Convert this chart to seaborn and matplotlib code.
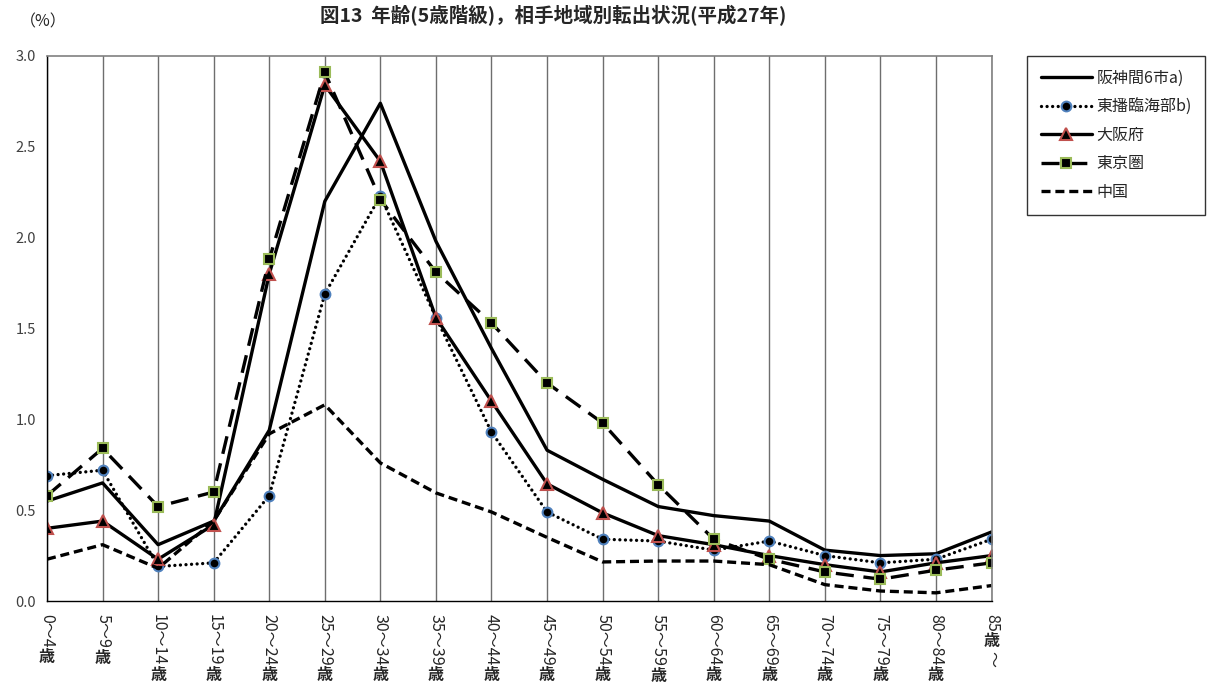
import matplotlib
matplotlib.use("Agg")
import matplotlib.pyplot as plt
import seaborn as sns

# 年齢階級
age_labels = ['0～4歳', '5～9歳', '10～14歳', '15～19歳', '20～24歳', '25～29歳',
              '30～34歳', '35～39歳', '40～44歳', '45～49歳', '50～54歳', '55～59歳',
              '60～64歳', '65～69歳', '70～74歳', '75～79歳', '80～84歳', '85歳～']

# 相手地域別転出率 (%)
hanshin = [0.55, 0.65, 0.31, 0.44, 0.94, 2.20, 2.74, 1.98, 1.39, 0.83, 0.67, 0.52,
           0.47, 0.44, 0.28, 0.25, 0.26, 0.38]
toban = [0.69, 0.72, 0.19, 0.21, 0.58, 1.69, 2.23, 1.56, 0.93, 0.49, 0.34, 0.33,
         0.28, 0.33, 0.25, 0.21, 0.23, 0.34]
osaka = [0.40, 0.44, 0.23, 0.42, 1.80, 2.84, 2.42, 1.56, 1.10, 0.645, 0.485, 0.36,
         0.31, 0.25, 0.20, 0.16, 0.21, 0.25]
tokyo = [0.58, 0.84, 0.52, 0.60, 1.88, 2.91, 2.21, 1.81, 1.53, 1.20, 0.98, 0.64,
         0.34, 0.23, 0.16, 0.12, 0.17, 0.21]
china = [0.23, 0.31, 0.18, 0.44, 0.92, 1.08, 0.76, 0.595, 0.49, 0.35, 0.215, 0.22,
         0.22, 0.20, 0.09, 0.055, 0.045, 0.085]

sns.set_style("white")
plt.rcParams['font.family'] = ['Noto Sans CJK JP', 'DejaVu Sans']
plt.rcParams['lines.scale_dashes'] = False

fig = plt.figure(figsize=(12.11, 6.86), dpi=100)
ax = fig.add_axes([0.0388, 0.1239, 0.7800, 0.7945])

x = list(range(len(age_labels)))
lw = 2.4

sns.lineplot(x=x, y=hanshin, ax=ax, color='black', linewidth=lw,
             linestyle='-', label='阪神間6市a)')
sns.lineplot(x=x, y=toban, ax=ax, color='black', linewidth=lw,
             linestyle=(0, (0.01, 4.0)), dash_capstyle='round',
             marker='o', markersize=7, markerfacecolor='black',
             markeredgecolor='#4f81bd', markeredgewidth=1.5, label='東播臨海部b)')
sns.lineplot(x=x, y=osaka, ax=ax, color='black', linewidth=lw,
             linestyle='-', marker='^', markersize=8, markerfacecolor='black',
             markeredgecolor='#c0504d', markeredgewidth=1.5, label='大阪府')
sns.lineplot(x=x, y=tokyo, ax=ax, color='black', linewidth=lw,
             linestyle=(0, (13, 7)), marker='s', markersize=7, markerfacecolor='black',
             markeredgecolor='#9bbb59', markeredgewidth=1.5, label='東京圏')
sns.lineplot(x=x, y=china, ax=ax, color='black', linewidth=lw,
             linestyle=(0, (6.5, 3.5)), label='中国')

ax.set_xlim(0, len(age_labels) - 1)
ax.set_ylim(0, 3.0)
ax.set_yticks([0, 0.5, 1.0, 1.5, 2.0, 2.5, 3.0])
ax.set_yticklabels([f'{v:.1f}' for v in [0, 0.5, 1.0, 1.5, 2.0, 2.5, 3.0]])
ax.set_xlabel('')
ax.set_ylabel('')

# 縦グリッド
ax.set_xticks(x)
ax.grid(axis='x', color='#6e6e6e', linewidth=1.0)
ax.grid(axis='y', visible=False)
for s in ['left', 'bottom']:
    ax.spines[s].set_color('black')
    ax.spines[s].set_linewidth(1.0)
for s in ['top', 'right']:
    ax.spines[s].set_color('#808080')
    ax.spines[s].set_linewidth(1.2)
ax.tick_params(axis='y', direction='out', length=5, width=1, color='black',
               labelsize=10.5, labelcolor='#404040', pad=3)
ax.tick_params(axis='x', direction='out', length=6, width=1, color='black', pad=3)


# 縦書き風ラベル: 数字部分は回転、「歳」は正立
def split_runs(label):
    runs = []
    for ch in label:
        upright = ch == '歳'
        if runs and runs[-1][1] == upright:
            runs[-1][0] += ch
        else:
            runs.append([ch, upright])
    return runs


label_runs = [split_runs(lbl) for lbl in age_labels]
ax.set_xticklabels([r[0][0] for r in label_runs], rotation=270,
                   fontsize=11.5, va='top', ha='center')

fig.canvas.draw()
renderer = fig.canvas.get_renderer()
inv = fig.transFigure.inverted()
for tl, runs in zip(ax.get_xticklabels(), label_runs):
    bb = tl.get_window_extent(renderer)
    cx = (bb.x0 + bb.x1) / 2
    y = bb.y0 - 2
    for text, upright in runs[1:]:
        fx, fy = inv.transform((cx, y))
        t = fig.text(fx, fy, text, rotation=0 if upright else 270,
                     fontsize=11.5, ha='center', va='top',
                     fontweight='bold' if upright else 'normal')
        tb = t.get_window_extent(renderer)
        y = tb.y0 - 2

ax.legend(loc='upper left', bbox_to_anchor=(0.848, 0.918),
          bbox_transform=fig.transFigure, frameon=True, fancybox=False,
          edgecolor='black', fontsize=11.5, handlelength=3.2, handletextpad=0.3,
          labelspacing=0.72, borderpad=0.85, borderaxespad=0)
ax.get_legend().get_frame().set_linewidth(1.0)

fig.text(0.457, 0.978, '図13  年齢(5歳階級)，相手地域別転出状況(平成27年)',
         ha='center', va='center', fontsize=14, fontweight='bold')
fig.text(0.036, 0.968, '（%）', ha='center', va='center', fontsize=11.5)

fig.savefig('out.png', dpi=100)
